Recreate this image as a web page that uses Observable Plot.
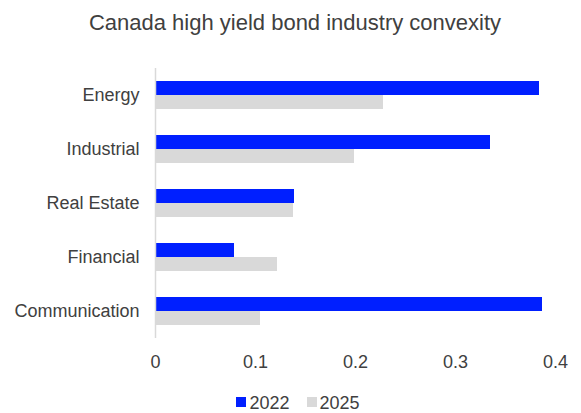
<!DOCTYPE html>
<html>
<head>
<meta charset="utf-8">
<script src="https://cdn.jsdelivr.net/npm/d3@7"></script>
<script src="https://cdn.jsdelivr.net/npm/@observablehq/plot@0.6"></script>
<style>
  html, body { margin: 0; padding: 0; background: #fff; overflow: hidden; }
  body { width: 581px; height: 413px; font-family: "Liberation Sans", Arial, sans-serif; color: #404040; }
  #title { box-sizing: border-box; width: 581px; padding-top: 10px; padding-left: 9px; height: 36px;
           font-size: 22px; line-height: 26px; text-align: center; white-space: nowrap; }
  #chart svg { display: block; }
  #legend { box-sizing: border-box; width: 581px; padding-left: 15px; padding-top: 8px;
            font-size: 18px; line-height: 20px; display: flex; justify-content: center; white-space: nowrap; }
  .item { display: inline-block; }
  .item + .item { margin-left: 17px; }
  .sw { display: inline-block; width: 10px; height: 10px; margin-right: 3px; margin-bottom: 2px; vertical-align: baseline; }
</style>
</head>
<body>
<div id="title">Canada high yield bond industry convexity</div>
<div id="chart"></div>
<div id="legend"></div>
<script>
const categories = ["Energy", "Industrial", "Real Estate", "Financial", "Communication"];
const seriesNames = ["2022", "2025"];
const values2022 = [0.384, 0.335, 0.139, 0.079, 0.387];
const values2025 = [0.228, 0.199, 0.138, 0.122, 0.105];
const seriesColors = ["#001FFF", "#D9D9D9"];
const xTicks = [0, 0.1, 0.2, 0.3, 0.4];
const xTickLabels = ["0", "0.1", "0.2", "0.3", "0.4"];

const rows = [];
categories.forEach((c, i) => {
  rows.push({category: c, series: seriesNames[0], value: values2022[i]});
  rows.push({category: c, series: seriesNames[1], value: values2025[i]});
});

const chart = Plot.plot({
  width: 581,
  height: 349,
  marginTop: 31,
  marginBottom: 46,
  marginLeft: 155,
  marginRight: 26,
  style: {fontFamily: "'Liberation Sans', Arial, sans-serif", fontSize: "18px", color: "#404040", background: "#fff"},
  x: {domain: [0, 0.4], label: null},
  fy: {domain: categories, paddingInner: 0, paddingOuter: 0, label: null},
  y: {domain: seriesNames, paddingInner: 0, paddingOuter: 0.875, axis: null},
  color: {domain: seriesNames, range: seriesColors},
  marks: [
    Plot.barX(rows, {x: "value", y: "series", fy: "category", fill: "series"}),
    Plot.ruleX([0], {stroke: "#D9D9D9", strokeWidth: 1.5}),
    Plot.axisFy({anchor: "left", tickSize: 0, tickPadding: 16, label: null}),
    Plot.axisX({ticks: xTicks, tickSize: 0, tickPadding: 17, label: null,
                tickFormat: (d) => xTickLabels[xTicks.indexOf(d)]})
  ]
});
document.getElementById("chart").appendChild(chart);

const legend = document.getElementById("legend");
seriesNames.forEach((s, i) => {
  const item = document.createElement("span");
  item.className = "item";
  const sw = document.createElement("span");
  sw.className = "sw";
  sw.style.background = seriesColors[i];
  item.appendChild(sw);
  item.appendChild(document.createTextNode(s));
  legend.appendChild(item);
});
</script>
</body>
</html>
